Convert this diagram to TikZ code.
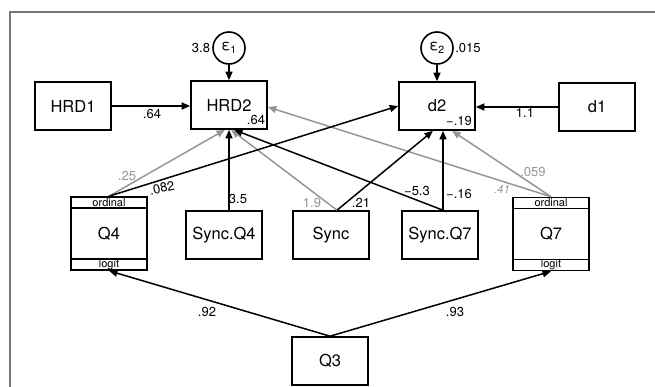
\documentclass[tikz,border=0pt]{standalone}
\usepackage{fontspec}
\setmainfont{TeX Gyre Heros}
\usetikzlibrary{arrows.meta,calc}
\definecolor{gcol}{RGB}{150,150,150}
\definecolor{framecol}{RGB}{120,120,120}
\begin{document}
\begin{tikzpicture}[x=1pt,y=-1pt,
  box/.style={draw,line width=1.6pt,minimum width=76pt,minimum height=48pt,inner sep=0pt,font=\fontsize{16.5}{16.5}\selectfont},
  obox/.style={box,minimum height=73pt},
  err/.style={draw,circle,line width=1.6pt,minimum size=32pt,inner sep=0pt,font=\fontsize{15}{15}\selectfont},
  pth/.style={line width=1.5pt,-{Triangle[length=8.5pt,width=7pt]}},
  gpth/.style={pth,draw=gcol,fill=gcol},
  lbl/.style={font=\fontsize{13}{13}\selectfont,inner sep=0pt},
  glbl/.style={lbl,text=gcol},
  band/.style={font=\fontsize{11}{11}\selectfont,inner sep=0pt}]
\useasboundingbox (0,0) rectangle (655,387);
\draw[framecol,line width=1.6pt] (655,12) -- (10,12) -- (10,387);

% nodes
\node[box] (HRD1) at (73,106) {HRD1};
\node[box] (HRD2) at (229,105) {HRD2};
\node[box] (d2) at (437,106) {d2};
\node[box] (d1) at (597,107) {d1};
\node[err] (e1) at (229,48) {ε\textsubscript{1}};
\node[err] (e2) at (437,48) {ε\textsubscript{2}};
\node[obox] (Q4) at (109,233.5) {Q4};
\node[box] (SyncQ4) at (224,235) {Sync.Q4};
\node[box] (Sync) at (331,235) {Sync};
\node[box] (SyncQ7) at (440,235) {Sync.Q7};
\node[obox] (Q7) at (551,234) {Q7};
\node[box] (Q3) at (330,361) {Q3};

% bands of ordinal boxes
\foreach \q in {Q4,Q7}{
  \draw[line width=1.6pt] ($(\q.north west)+(0,12)$) -- ($(\q.north east)+(0,12)$);
  \draw[line width=1.6pt] ($(\q.south west)+(0,-12)$) -- ($(\q.south east)+(0,-12)$);
}
\node[band] (Q4ord) at ($(Q4.north)+(0,6)$) {ordinal};
\node[band] (Q4log) at ($(Q4.south)+(0,-6.5)$) {logit};
\node[band] (Q7ord) at ($(Q7.north)+(0,6)$) {ordinal};
\node[band] (Q7log) at ($(Q7.south)+(0,-6.5)$) {logit};

% gray paths
\draw[gpth] (Q4.north) -- ($(HRD2.south)+(-4,0)$);
\draw[gpth] ($(Sync.north)+(6,0)$) -- ($(HRD2.south)+(2,0)$);
\draw[gpth] (Q7.north) -- ($(HRD2.east)+(0,2)$);
\draw[gpth] (Q7.north) -- ($(d2.south)+(15,0)$);

% black paths
\draw[pth] (HRD1.east) -- (HRD1.east -| HRD2.west);
\draw[pth] (d1.west) -- (d1.west -| d2.east);
\draw[pth] (e1) -- (HRD2.north);
\draw[pth] (e2) -- (d2.north);
\draw[pth] (Q4.north) -- (d2.west);
\draw[pth] ($(SyncQ4.north)+(5,0)$) -- (HRD2.south);
\draw[pth] ($(Sync.north)+(6,0)$) -- ($(d2.south)+(-4,0)$);
\draw[pth] ($(SyncQ7.north)+(3,0)$) -- ($(HRD2.south)+(5,0)$);
\draw[pth] ($(SyncQ7.north)+(3,0)$) -- ($(d2.south)+(6,0)$);
\draw[pth] (Q3.north) -- (Q4.south);
\draw[pth] (Q3.north) -- (Q7.south);

% labels
\node[lbl] (l1) at (152,114) {.64};
\node[lbl] (l2) at (256,120) {.64};
\node[lbl] (l3) at (201,48) {3.8};
\node[lbl] (l4) at (468,48) {.015};
\node[lbl] (l5) at (459,121) {−.19};
\node[lbl] (l6) at (525,113) {1.1};
\node[glbl] (l7) at (127,176) {.25};
\node[lbl,rotate=12] (l8) at (162,188) {.082};
\node[lbl] (l9) at (238,199) {3.5};
\node[glbl] (l10) at (312,203) {1.9};
\node[lbl] (l11) at (361,203) {.21};
\node[lbl] (l12) at (417,191) {−5.3};
\node[lbl] (l13) at (459,194) {−.16};
\node[glbl,font=\fontsize{11.5}{12}\selectfont\itshape] (l14) at (502,189) {.41};
\node[glbl] (l15) at (533,172) {.059};
\node[lbl] (l16) at (207,312) {.92};
\node[lbl] (l17) at (455,312) {.93};
\end{tikzpicture}
\end{document}
